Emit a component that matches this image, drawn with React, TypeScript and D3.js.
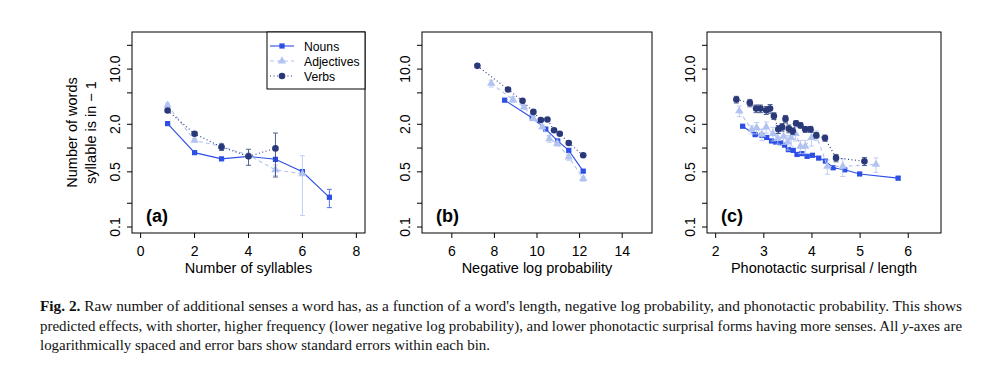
import React from 'react';
import * as d3 from 'd3';

// panel (a): number of syllables
const syllablesNouns = [1, 2, 3, 4, 5, 6, 7];
const nounsA = [2.04, 0.875, 0.73, 0.785, 0.72, 0.5, 0.238];
const nounsASe = [0.05, 0.03, 0.03, 0.04, 0.04, 0.035, 0.062];
const syllablesAdj = [1, 2, 3, 4, 5, 6];
const adjA = [3.49, 1.25, 1.05, 0.81, 0.53, 0.47];
const adjASe = [0.24, 0.05, 0.05, 0.05, 0.08, 0.33];
const syllablesVerbs = [1, 2, 3, 4, 5];
const verbsA = [2.99, 1.52, 1.03, 0.785, 0.99];
const verbsASe = [0.15, 0.08, 0.1, 0.18, 0.56];

// panel (b): negative log probability
const nlpNouns = [8.48, 9.78, 10.41, 10.97, 11.49, 12.17];
const nounsB = [4.04, 2.4, 1.74, 1.23, 0.935, 0.51];
const nounsBSe = [0.1, 0.05, 0.04, 0.03, 0.03, 0.02];
const nlpAdj = [7.85, 8.87, 9.39, 9.83, 10.25, 10.58, 10.95, 11.49, 12.17];
const adjB = [6.58, 4.12, 3.32, 2.37, 1.85, 1.31, 1.14, 0.77, 0.41];
const adjBSe = [0.65, 0.35, 0.25, 0.15, 0.1, 0.13, 0.08, 0.07, 0.03];
const nlpVerbs = [7.2, 8.64, 9.32, 9.83, 10.18, 10.49, 10.8, 11.07, 11.49, 12.17];
const verbsB = [11.0, 5.52, 3.96, 2.87, 2.27, 2.3, 1.68, 1.52, 1.16, 0.81];
const verbsBSe = [0.4, 0.2, 0.15, 0.1, 0.08, 0.08, 0.06, 0.05, 0.04, 0.03];

// panel (c): phonotactic surprisal / length
const psNouns = [2.56, 2.82, 2.96, 3.06, 3.16, 3.25, 3.34, 3.43, 3.51, 3.61, 3.69, 3.79, 3.9, 4.01, 4.14, 4.28, 4.44, 4.68, 4.99, 5.79];
const nounsC = [1.89, 1.48, 1.45, 1.36, 1.23, 1.19, 1.17, 1.09, 0.955, 0.935, 0.83, 0.85, 0.785, 0.81, 0.746, 0.684, 0.563, 0.53, 0.47, 0.416];
const nounsCSe = [0.04, 0.04, 0.04, 0.04, 0.03, 0.03, 0.03, 0.03, 0.03, 0.03, 0.02, 0.02, 0.02, 0.02, 0.02, 0.02, 0.02, 0.02, 0.02, 0.02];
const psAdj = [2.49, 2.75, 2.85, 2.96, 3.05, 3.19, 3.29, 3.41, 3.5, 3.57, 3.66, 3.76, 3.86, 3.99, 4.09, 4.32, 4.64, 5.33];
const adjC = [2.95, 1.71, 1.81, 1.49, 1.84, 1.53, 1.32, 1.41, 1.19, 1.36, 1.53, 1.05, 1.05, 1.36, 1.45, 0.586, 0.586, 0.62];
const adjCSe = [0.45, 0.2, 0.3, 0.25, 0.3, 0.3, 0.2, 0.3, 0.25, 0.3, 0.3, 0.2, 0.2, 0.3, 0.2, 0.12, 0.15, 0.13];
const psVerbs = [2.43, 2.71, 2.84, 2.93, 3.05, 3.13, 3.21, 3.3, 3.38, 3.45, 3.52, 3.6, 3.67, 3.76, 3.86, 3.97, 4.09, 4.27, 4.5, 5.09];
const verbsC = [4.12, 3.73, 3.16, 3.16, 3.01, 3.16, 2.55, 1.73, 1.84, 2.34, 1.76, 1.64, 2.06, 1.94, 1.73, 1.73, 1.45, 1.34, 0.75, 0.68];
const verbsCSe = [0.4, 0.4, 0.35, 0.35, 0.35, 0.4, 0.25, 0.2, 0.2, 0.25, 0.2, 0.15, 0.15, 0.15, 0.15, 0.15, 0.12, 0.12, 0.08, 0.08];

const yTicks = [0.1, 0.2, 0.5, 1, 2, 5, 10, 20];
const yTickLabels = ['0.1', '0.5', '2.0', '10.0'];
const legendNames = ['Nouns', 'Adjectives', 'Verbs'];

const NOUN = '#2c4fe6';
const ADJ = '#b3c3f1';
const VERB = '#283878';
const FONT = '"Liberation Sans", Arial, sans-serif';

const TOP = 32;
const BOTTOM = 233;

type Series = { x: number[]; y: number[]; se: number[]; color: string; dash: string; shape: string };

function mk(x: number[], y: number[], se: number[], kind: number): Series {
  const styles = [
    { color: NOUN, dash: '', shape: 'square' },
    { color: ADJ, dash: '4,3', shape: 'triangle' },
    { color: VERB, dash: '1,2.5', shape: 'circle' },
  ];
  return { x, y, se, ...styles[kind] };
}

function Marker({ shape, cx, cy, color }: { shape: string; cx: number; cy: number; color: string }) {
  if (shape === 'square') return <rect x={cx - 2.6} y={cy - 2.6} width={5.2} height={5.2} fill={color} />;
  if (shape === 'circle') return <circle cx={cx} cy={cy} r={3.3} fill={color} />;
  const p = d3.symbol().type(d3.symbolTriangle).size(30)();
  return <path d={p || ''} transform={`translate(${cx},${cy})`} fill={color} />;
}

function Panel(props: {
  x0: number; x1: number; xDomain: [number, number]; xTicks: number[];
  xTitle: string; tag: string; series: Series[]; legend?: boolean; yTitle?: boolean;
}) {
  const { x0, x1, xDomain, xTicks, xTitle, tag, series } = props;
  const xs = d3.scaleLinear().domain(xDomain).range([x0, x1]);
  const ys = d3.scaleLog().domain([0.084, 29.5]).range([BOTTOM, TOP]);
  const line = d3.line<[number, number]>().x(d => xs(d[0])).y(d => ys(d[1]));
  const mid = (TOP + BOTTOM) / 2;

  return (
    <g fontFamily={FONT}>
      {series.map((s, i) => (
        <g key={i}>
          {s.x.map((xv, j) => {
            const lo = ys(Math.max(s.y[j] - s.se[j], 0.085));
            const hi = ys(s.y[j] + s.se[j]);
            const cx = xs(xv);
            return (
              <g key={j} stroke={s.color} strokeWidth={1} opacity={0.8}>
                <line x1={cx} x2={cx} y1={lo} y2={hi} />
                <line x1={cx - 2.5} x2={cx + 2.5} y1={lo} y2={lo} />
                <line x1={cx - 2.5} x2={cx + 2.5} y1={hi} y2={hi} />
              </g>
            );
          })}
          <path d={line(s.x.map((xv, j) => [xv, s.y[j]] as [number, number])) || ''}
            fill="none" stroke={s.color} strokeWidth={1.1} strokeDasharray={s.dash} />
          {s.x.map((xv, j) => (
            <Marker key={j} shape={s.shape} cx={xs(xv)} cy={ys(s.y[j])} color={s.color} />
          ))}
        </g>
      ))}

      <rect x={x0} y={TOP} width={x1 - x0} height={BOTTOM - TOP} fill="none" stroke="#000" strokeWidth={1} />

      {xTicks.map(t => (
        <g key={t}>
          <line x1={xs(t)} x2={xs(t)} y1={BOTTOM} y2={BOTTOM + 5} stroke="#000" />
          <text x={xs(t)} y={BOTTOM + 23} fontSize={14} textAnchor="middle">{t}</text>
        </g>
      ))}
      <text x={(x0 + x1) / 2} y={273} fontSize={14.5} textAnchor="middle">{xTitle}</text>

      {yTicks.map(t => (
        <line key={t} x1={x0} x2={x0 - 5} y1={ys(t)} y2={ys(t)} stroke="#000" />
      ))}
      {yTickLabels.map(l => (
        <text key={l} transform={`translate(${x0 - 12},${ys(+l)}) rotate(-90)`} fontSize={14} textAnchor="middle">{l}</text>
      ))}

      <text x={x0 + 14} y={BOTTOM - 11} fontSize={18} fontWeight="bold">{tag}</text>

      {props.yTitle && (
        <g transform={`translate(77,${mid}) rotate(-90)`} fontSize={14.5} textAnchor="middle">
          <text x={0} y={0}>Number of words</text>
          <text x={0} y={19}>syllable is in − 1</text>
        </g>
      )}

      {props.legend && (
        <g>
          <rect x={267} y={TOP} width={x1 - 267} height={57} fill="#fff" stroke="#000" />
          {series.map((s, i) => {
            const yy = 46 + i * 15;
            return (
              <g key={i}>
                <line x1={270} x2={294} y1={yy} y2={yy} stroke={s.color} strokeWidth={1.1} strokeDasharray={s.dash} />
                <Marker shape={s.shape} cx={282} cy={yy} color={s.color} />
                <text x={304} y={yy + 4.5} fontSize={12.2}>{legendNames[i]}</text>
              </g>
            );
          })}
        </g>
      )}
    </g>
  );
}

export default function App() {
  const seriesA = [mk(syllablesNouns, nounsA, nounsASe, 0), mk(syllablesAdj, adjA, adjASe, 1), mk(syllablesVerbs, verbsA, verbsASe, 2)];
  const seriesB = [mk(nlpNouns, nounsB, nounsBSe, 0), mk(nlpAdj, adjB, adjBSe, 1), mk(nlpVerbs, verbsB, verbsBSe, 2)];
  const seriesC = [mk(psNouns, nounsC, nounsCSe, 0), mk(psAdj, adjC, adjCSe, 1), mk(psVerbs, verbsC, verbsCSe, 2)];
  const cap = '"Liberation Serif", "DejaVu Serif", serif';
  return (
    <svg width={1000} height={374} style={{ position: 'absolute', left: 0, top: 0, background: '#fff' }}>
      <rect width={1000} height={374} fill="#fff" />
      <Panel x0={132} x1={365} xDomain={[-0.32, 8.32]} xTicks={[0, 2, 4, 6, 8]} xTitle="Number of syllables" tag="(a)" series={seriesA} legend yTitle />
      <Panel x0={422} x1={652} xDomain={[4.6, 15.4]} xTicks={[6, 8, 10, 12, 14]} xTitle="Negative log probability" tag="(b)" series={seriesB} />
      <Panel x0={707} x1={941} xDomain={[1.82, 6.68]} xTicks={[2, 3, 4, 5, 6]} xTitle="Phonotactic surprisal / length" tag="(c)" series={seriesC} />
      <g fontFamily={cap} fontSize={14} fill="#111">
        <text x={40} y={311} textLength={922} lengthAdjust="spacingAndGlyphs">
          <tspan fontWeight="bold">Fig. 2.</tspan> Raw number of additional senses a word has, as a function of a word's length, negative log probability, and phonotactic probability. This shows
        </text>
        <text x={40} y={331} textLength={922} lengthAdjust="spacingAndGlyphs">
          predicted effects, with shorter, higher frequency (lower negative log probability), and lower phonotactic surprisal forms having more senses. All <tspan fontStyle="italic">y</tspan>-axes are
        </text>
        <text x={40} y={350} textLength={450} lengthAdjust="spacingAndGlyphs">
          logarithmically spaced and error bars show standard errors within each bin.
        </text>
      </g>
    </svg>
  );
}
